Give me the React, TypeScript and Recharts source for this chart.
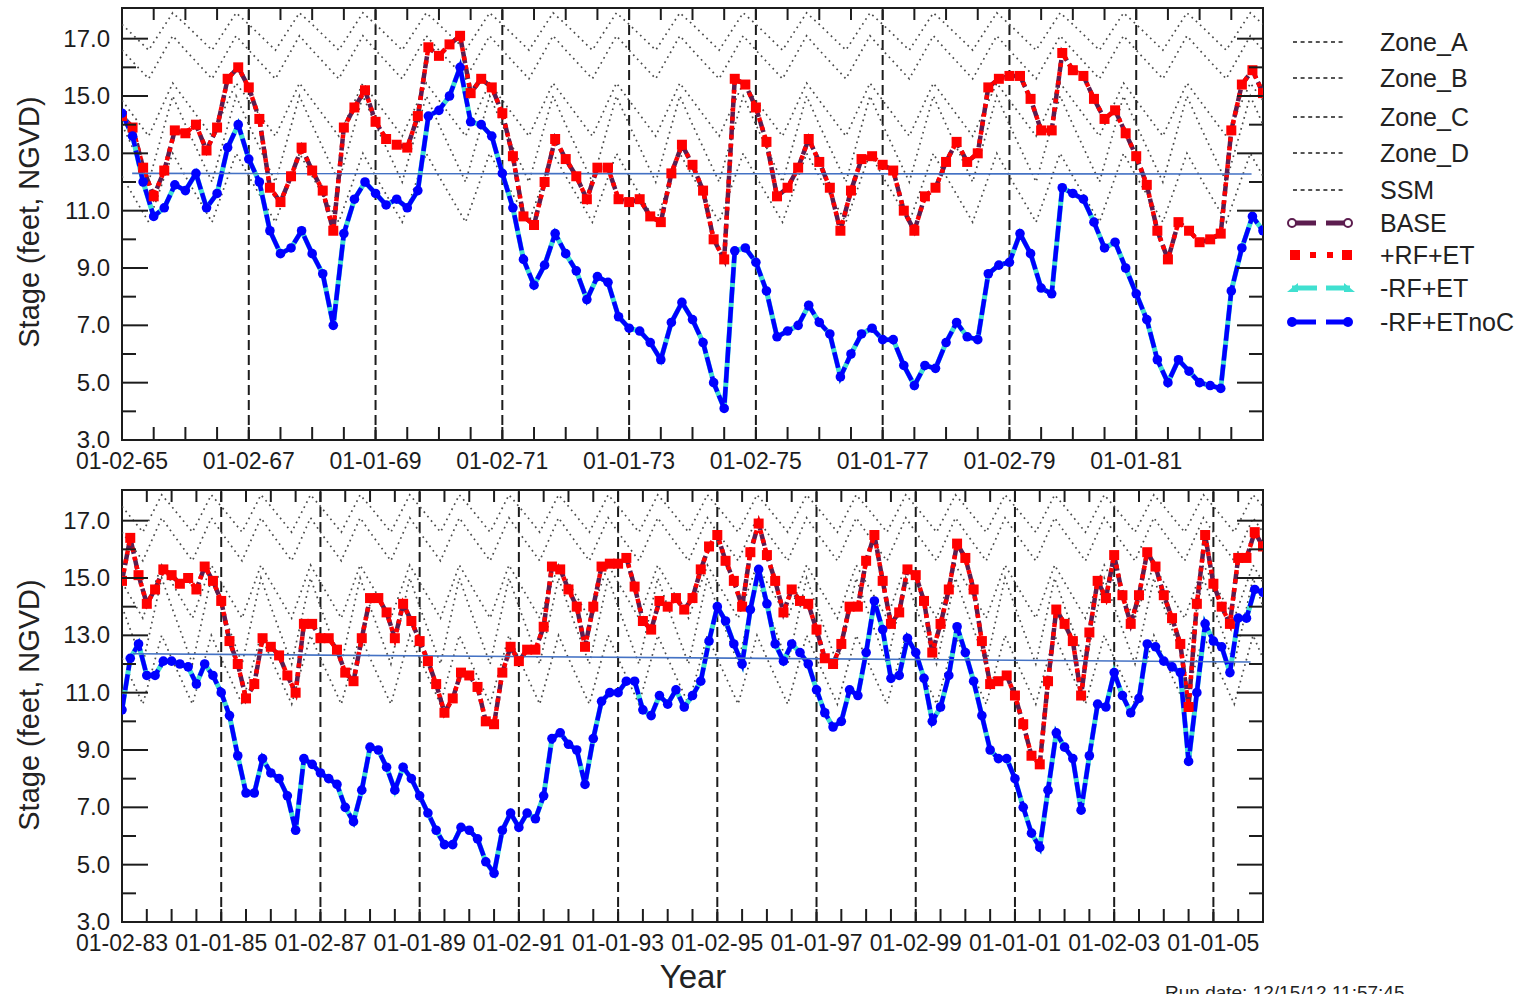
import React from 'react';
import { LineChart, Line, XAxis, YAxis, ReferenceLine, ReferenceArea } from 'recharts';

const FONT = '"Liberation Sans", Arial, Helvetica, sans-serif';

// lake stage, one value every 60 days
const topStart = 1965;
const topEnd = 1983;
const topRfEt = [
  14.3, 13.9, 12.5, 11.5, 12.4, 13.8,
  13.7, 14.0, 13.1, 13.9, 15.6, 16.0,
  15.3, 14.2, 11.8, 11.3, 12.2, 13.2,
  12.4, 11.7, 10.3, 13.9, 14.6, 15.2,
  14.1, 13.5, 13.3, 13.2, 14.3, 16.7,
  16.4, 16.8, 17.1, 15.1, 15.6, 15.3,
  14.4, 12.9, 10.8, 10.5, 12.0, 13.5,
  12.8, 12.2, 11.4, 12.5, 12.5, 11.4,
  11.3, 11.4, 10.8, 10.6, 12.3, 13.3,
  12.6, 11.7, 10.0, 9.3, 15.6, 15.4,
  14.6, 13.4, 11.5, 11.8, 12.5, 13.5,
  12.7, 11.8, 10.3, 11.7, 12.8, 12.9,
  12.6, 12.4, 11.0, 10.3, 11.5, 11.8,
  12.7, 13.4, 12.7, 13.0, 15.3, 15.6,
  15.7, 15.7, 14.9, 13.8, 13.8, 16.5,
  15.9, 15.7, 14.9, 14.2, 14.5, 13.7,
  12.9, 11.9, 10.3, 9.3, 10.6, 10.3,
  9.9, 10.0, 10.2, 13.8, 15.4, 15.9,
  15.1,
];
const topRfEtNoC = [
  14.4, 13.6, 12.0, 10.8, 11.1, 11.9,
  11.7, 12.3, 11.1, 11.6, 13.2, 14.0,
  12.8, 12.0, 10.3, 9.5, 9.7, 10.3,
  9.5, 8.8, 7.0, 10.2, 11.4, 12.0,
  11.6, 11.2, 11.4, 11.1, 11.7, 14.3,
  14.5, 15.0, 16.0, 14.1, 14.0, 13.6,
  12.3, 11.1, 9.3, 8.4, 9.1, 10.2,
  9.5, 8.9, 7.9, 8.7, 8.5, 7.3,
  6.9, 6.8, 6.4, 5.8, 7.1, 7.8,
  7.2, 6.4, 5.0, 4.1, 9.6, 9.7,
  9.2, 8.2, 6.6, 6.8, 7.0, 7.7,
  7.1, 6.7, 5.2, 6.0, 6.7, 6.9,
  6.5, 6.5, 5.6, 4.9, 5.6, 5.5,
  6.4, 7.1, 6.6, 6.5, 8.8, 9.1,
  9.2, 10.2, 9.5, 8.3, 8.1, 11.8,
  11.6, 11.4, 10.6, 9.7, 9.9, 9.0,
  8.1, 7.2, 5.8, 5.0, 5.8, 5.4,
  5.0, 4.9, 4.8, 8.2, 9.7, 10.8,
  10.3,
];

const bottomStart = 1983;
const bottomEnd = 2006;
const bottomRfEt = [
  14.9, 16.4, 15.1, 14.1, 14.6, 15.3,
  15.1, 14.8, 15.0, 14.6, 15.4, 14.9,
  14.2, 12.8, 12.0, 10.8, 11.3, 12.9,
  12.6, 12.3, 11.6, 11.0, 13.4, 13.4,
  12.9, 12.9, 12.5, 11.7, 11.4, 12.9,
  14.3, 14.3, 13.8, 12.9, 14.1, 13.5,
  12.8, 12.1, 11.3, 10.3, 10.8, 11.7,
  11.6, 11.2, 10.0, 9.9, 11.7, 12.6,
  12.1, 12.5, 12.5, 13.3, 15.4, 15.3,
  14.6, 14.0, 12.6, 14.0, 15.4, 15.5,
  15.5, 15.7, 14.7, 13.5, 13.2, 14.2,
  14.0, 14.3, 13.9, 14.3, 15.3, 16.1,
  16.5, 15.6, 14.9, 14.0, 15.9, 16.9,
  15.8, 14.9, 13.8, 14.6, 14.2, 14.1,
  13.2, 12.2, 12.0, 12.7, 14.0, 14.0,
  15.6, 16.5, 14.9, 13.4, 13.8, 15.3,
  15.1, 14.2, 12.4, 13.4, 14.6, 16.2,
  15.7, 14.6, 12.8, 11.3, 11.4, 11.6,
  10.9, 9.9, 8.8, 8.5, 11.4, 13.9,
  13.4, 12.8, 10.9, 13.1, 14.9, 14.3,
  15.8, 14.4, 13.4, 14.4, 15.9, 15.4,
  14.4, 13.6, 12.7, 10.5, 14.1, 16.5,
  14.8, 14.0, 13.4, 15.7, 15.7, 16.6,
  16.1,
];
const bottomRfEtNoC = [
  10.4, 12.2, 12.7, 11.6, 11.6, 12.1,
  12.1, 12.0, 11.9, 11.3, 12.0, 11.6,
  11.0, 10.2, 8.8, 7.5, 7.5, 8.7,
  8.2, 8.0, 7.4, 6.2, 8.7, 8.5,
  8.2, 8.0, 7.8, 7.0, 6.5, 7.6,
  9.1, 9.0, 8.4, 7.6, 8.4, 8.0,
  7.4, 6.8, 6.2, 5.7, 5.7, 6.3,
  6.2, 5.9, 5.1, 4.7, 6.2, 6.8,
  6.3, 6.8, 6.6, 7.4, 9.4, 9.6,
  9.2, 9.0, 7.8, 9.4, 10.7, 11.0,
  11.0, 11.4, 11.4, 10.4, 10.2, 10.9,
  10.6, 11.1, 10.5, 10.9, 11.4, 12.8,
  14.0, 13.5, 12.7, 12.0, 13.9, 15.3,
  14.1, 12.7, 12.1, 12.7, 12.4, 12.0,
  11.1, 10.3, 9.8, 10.0, 11.1, 10.9,
  12.4, 14.2, 13.2, 11.5, 11.6, 12.9,
  12.4, 11.5, 10.0, 10.5, 11.6, 13.3,
  12.4, 11.4, 10.2, 9.0, 8.7, 8.7,
  8.0, 7.0, 6.1, 5.6, 7.6, 9.6,
  9.1, 8.7, 6.9, 8.8, 10.6, 10.5,
  11.7, 10.9, 10.3, 10.8, 12.7, 12.6,
  12.1, 11.9, 11.7, 8.6, 11.0, 13.4,
  12.8, 12.6, 11.7, 13.6, 13.6, 14.6,
  14.5,
];

// yearly regulation schedule: Jan 1, end of May, mid October
const zoneFractions = [0, 0.42, 0.8];
const zoneA = [17.5, 16.6, 17.9];
const zoneB = [16.6, 15.6, 17.1];
const zoneC = [14.85, 13.6, 15.45];
const zoneD = [14.0, 12.0, 15.0];
const zoneSSM = [12.2, 10.6, 13.0];

// thin reference line across each panel
const topTrendYears = [1965.16, 1982.82];
const topTrend = [12.3, 12.28];
const bottomTrendYears = [1983.22, 2005.75];
const bottomTrend = [12.36, 12.07];

const topLabelYears = [1965, 1967, 1969, 1971, 1973, 1975, 1977, 1979, 1981];
const topLabels = ['01-02-65', '01-02-67', '01-01-69', '01-02-71', '01-01-73', '01-02-75', '01-01-77', '01-02-79', '01-01-81'];
const bottomLabelYears = [1983, 1985, 1987, 1989, 1991, 1993, 1995, 1997, 1999, 2001, 2003, 2005];
const bottomLabels = ['01-02-83', '01-01-85', '01-02-87', '01-01-89', '01-02-91', '01-01-93', '01-02-95', '01-01-97', '01-02-99', '01-01-01', '01-02-03', '01-01-05'];

const yTicks = [3, 4, 5, 6, 7, 8, 9, 10, 11, 12, 13, 14, 15, 16, 17];

const PURPLE = '#5c1d4f';
const RED = '#ff0000';
const CYAN = '#40e0d0';
const BLUE = '#0000ff';
const INK = '#1c1c1c';

const CHART_W = 1290;
const CHART_H = 480;
const PLOT_W = 1141;
const PLOT_H = 432;
const Y_MAX = 18.07;

const toPoints = (start: number, values: number[]) =>
  values.map((v, i) => ({ x: start + i / 6, v }));

const zonePoints = (start: number, end: number, vals: number[]) => {
  const pts: { x: number; v: number }[] = [];
  for (let yr = start; yr < end; yr++) {
    zoneFractions.forEach((f, k) => pts.push({ x: yr + f, v: vals[k] }));
  }
  pts.push({ x: end, v: vals[0] });
  return pts;
};

const RedSquare = (p: any) => {
  if (p.cx == null || p.cy == null) return null;
  return <rect key={`r${p.index}`} x={p.cx - 5} y={p.cy - 5} width={10} height={10} fill={RED} />;
};

const BlueDot = (p: any) => {
  if (p.cx == null || p.cy == null) return null;
  return <circle key={`b${p.index}`} cx={p.cx} cy={p.cy} r={4.8} fill={BLUE} />;
};

const XTick = (props: any) => {
  const { x, y, payload, labelMap } = props;
  const label = labelMap.get(payload.value);
  return (
    <g>
      <line x1={x} x2={x} y1={y} y2={y - 13} stroke={INK} strokeWidth={2} />
      <line x1={x} x2={x} y1={y - PLOT_H} y2={y - PLOT_H + 12} stroke={INK} strokeWidth={2} />
      {label && (
        <text x={x} y={y + 28.5} textAnchor="middle" fontSize={23} fill={INK}>
          {label}
        </text>
      )}
    </g>
  );
};

const YTick = (props: any) => {
  const { x, y, payload } = props;
  const major = payload.value % 2 === 1;
  const len = major ? 26 : 14;
  return (
    <g>
      <line x1={x} x2={x + len} y1={y} y2={y} stroke={INK} strokeWidth={2} />
      <line x1={x + PLOT_W} x2={x + PLOT_W - len} y1={y} y2={y} stroke={INK} strokeWidth={2} />
      {major && (
        <text x={x - 12} y={y} dy="0.34em" textAnchor="end" fontSize={24} fill={INK}>
          {payload.value.toFixed(1)}
        </text>
      )}
    </g>
  );
};

interface PanelProps {
  top: number;
  start: number;
  end: number;
  red: number[];
  blue: number[];
  labelYears: number[];
  labels: string[];
  trendYears: number[];
  trend: number[];
}

const Panel = ({ top, start, end, red, blue, labelYears, labels, trendYears, trend }: PanelProps) => {
  const redPts = toPoints(start, red);
  const bluePts = toPoints(start, blue);
  const trendPts = trendYears.map((x, i) => ({ x, v: trend[i] }));
  const halfYears = Array.from({ length: (end - start) * 2 + 1 }, (_, i) => start + i / 2);
  const labelMap = new Map(labelYears.map((yr, i) => [yr, labels[i]]));
  const dashed = labelYears.filter((yr) => yr > start && yr < end);
  const zones = [zoneA, zoneB, zoneC, zoneD, zoneSSM];

  return (
    <div style={{ position: 'absolute', left: 0, top }}>
      <LineChart width={CHART_W} height={CHART_H} margin={{ top: 8, right: 27, bottom: 0, left: 0 }}>
        <XAxis
          type="number"
          dataKey="x"
          domain={[start, end]}
          allowDataOverflow
          ticks={halfYears}
          interval={0}
          height={40}
          tickSize={0}
          tickMargin={0}
          axisLine={false}
          tickLine={false}
          tick={(p: any) => <XTick {...p} labelMap={labelMap} />}
        />
        <YAxis
          type="number"
          domain={[3, Y_MAX]}
          allowDataOverflow
          ticks={yTicks}
          interval={0}
          width={122}
          tickSize={0}
          tickMargin={0}
          axisLine={false}
          tickLine={false}
          tick={(p: any) => <YTick {...p} />}
        />
        {dashed.map((yr) => (
          <ReferenceLine key={yr} x={yr} stroke={INK} strokeWidth={2} strokeDasharray="10 5" />
        ))}
        {zones.map((z, i) => (
          <Line
            key={`zone${i}`}
            data={zonePoints(start, end, z)}
            dataKey="v"
            type="linear"
            stroke="#4a4a4a"
            strokeWidth={1.7}
            strokeDasharray="1.7 4"
            dot={false}
            activeDot={false}
            isAnimationActive={false}
          />
        ))}
        <Line data={redPts} dataKey="v" type="linear" stroke={PURPLE} strokeWidth={4.5} strokeDasharray="12 4" dot={false} activeDot={false} isAnimationActive={false} />
        <Line data={redPts} dataKey="v" type="linear" stroke={RED} strokeWidth={4.5} strokeDasharray="4 5" dot={RedSquare} activeDot={false} isAnimationActive={false} />
        <Line data={bluePts} dataKey="v" type="linear" stroke={CYAN} strokeWidth={5} dot={false} activeDot={false} isAnimationActive={false} />
        <Line data={bluePts} dataKey="v" type="linear" stroke={BLUE} strokeWidth={4.5} strokeDasharray="16 4" dot={BlueDot} activeDot={false} isAnimationActive={false} />
        <Line data={trendPts} dataKey="v" type="linear" stroke="#4472c4" strokeWidth={1.6} dot={false} activeDot={false} isAnimationActive={false} />
        <ReferenceArea x1={start} x2={end} y1={3} y2={Y_MAX} fill="none" fillOpacity={0} stroke={INK} strokeWidth={2} ifOverflow="visible" />
      </LineChart>
    </div>
  );
};

const legendNames = ['Zone_A', 'Zone_B', 'Zone_C', 'Zone_D', 'SSM', 'BASE', '+RF+ET', '-RF+ET', '-RF+ETnoC'];
const legendRowY = [42, 78, 117, 153, 190, 223, 255, 288, 322];

const LegendGlyph = ({ i, cy }: { i: number; cy: number }) => {
  if (i < 5) {
    return <line x1={1293} x2={1346} y1={cy} y2={cy} stroke={INK} strokeWidth={1.5} strokeDasharray="4 3.6" />;
  }
  if (i === 5) {
    return (
      <g>
        <line x1={1292} x2={1316} y1={cy} y2={cy} stroke={PURPLE} strokeWidth={5} />
        <line x1={1326} x2={1348} y1={cy} y2={cy} stroke={PURPLE} strokeWidth={5} />
        <circle cx={1292} cy={cy} r={4} fill="#fff" stroke={PURPLE} strokeWidth={2} />
        <circle cx={1348} cy={cy} r={4} fill="#fff" stroke={PURPLE} strokeWidth={2} />
      </g>
    );
  }
  if (i === 6) {
    return (
      <g fill={RED}>
        <rect x={1290} y={cy - 5} width={10} height={10} />
        <rect x={1310} y={cy - 3} width={6} height={6} />
        <rect x={1327} y={cy - 3} width={6} height={6} />
        <rect x={1342} y={cy - 5} width={10} height={10} />
      </g>
    );
  }
  if (i === 7) {
    return (
      <g fill={CYAN}>
        <line x1={1292} x2={1317} y1={cy} y2={cy} stroke={CYAN} strokeWidth={5} />
        <line x1={1326} x2={1350} y1={cy} y2={cy} stroke={CYAN} strokeWidth={5} />
        <polygon points={`${1287},${cy + 4} ${1298},${cy + 4} ${1298},${cy - 5}`} />
        <polygon points={`${1344},${cy + 4} ${1355},${cy + 4} ${1344},${cy - 5}`} />
      </g>
    );
  }
  return (
    <g>
      <line x1={1292} x2={1316} y1={cy} y2={cy} stroke={BLUE} strokeWidth={5} />
      <line x1={1326} x2={1348} y1={cy} y2={cy} stroke={BLUE} strokeWidth={5} />
      <circle cx={1292} cy={cy} r={5} fill={BLUE} />
      <circle cx={1348} cy={cy} r={5} fill={BLUE} />
    </g>
  );
};

export default function App() {
  return (
    <div
      style={{
        position: 'absolute',
        left: 0,
        top: 0,
        width: 1535,
        height: 994,
        overflow: 'hidden',
        background: '#fff',
        fontFamily: FONT,
      }}
    >
      <Panel
        top={0}
        start={topStart}
        end={topEnd}
        red={topRfEt}
        blue={topRfEtNoC}
        labelYears={topLabelYears}
        labels={topLabels}
        trendYears={topTrendYears}
        trend={topTrend}
      />
      <Panel
        top={482}
        start={bottomStart}
        end={bottomEnd}
        red={bottomRfEt}
        blue={bottomRfEtNoC}
        labelYears={bottomLabelYears}
        labels={bottomLabels}
        trendYears={bottomTrendYears}
        trend={bottomTrend}
      />
      <svg
        width={1535}
        height={994}
        style={{ position: 'absolute', left: 0, top: 0, pointerEvents: 'none' }}
      >
        <text transform="translate(39,222) rotate(-90)" textAnchor="middle" fontSize={29} fill="#222">
          Stage (feet, NGVD)
        </text>
        <text transform="translate(39,705) rotate(-90)" textAnchor="middle" fontSize={29} fill="#222">
          Stage (feet, NGVD)
        </text>
        <text x={693} y={988} textAnchor="middle" fontSize={33} fill="#222">
          Year
        </text>
        <text x={1165} y={999} fontSize={19} fill="#222">
          Run date: 12/15/12 11:57:45
        </text>
        {legendNames.map((name, i) => (
          <g key={name}>
            <LegendGlyph i={i} cy={legendRowY[i]} />
            <text x={1380} y={legendRowY[i] + 9} fontSize={25} fill="#222">
              {name}
            </text>
          </g>
        ))}
      </svg>
    </div>
  );
}
